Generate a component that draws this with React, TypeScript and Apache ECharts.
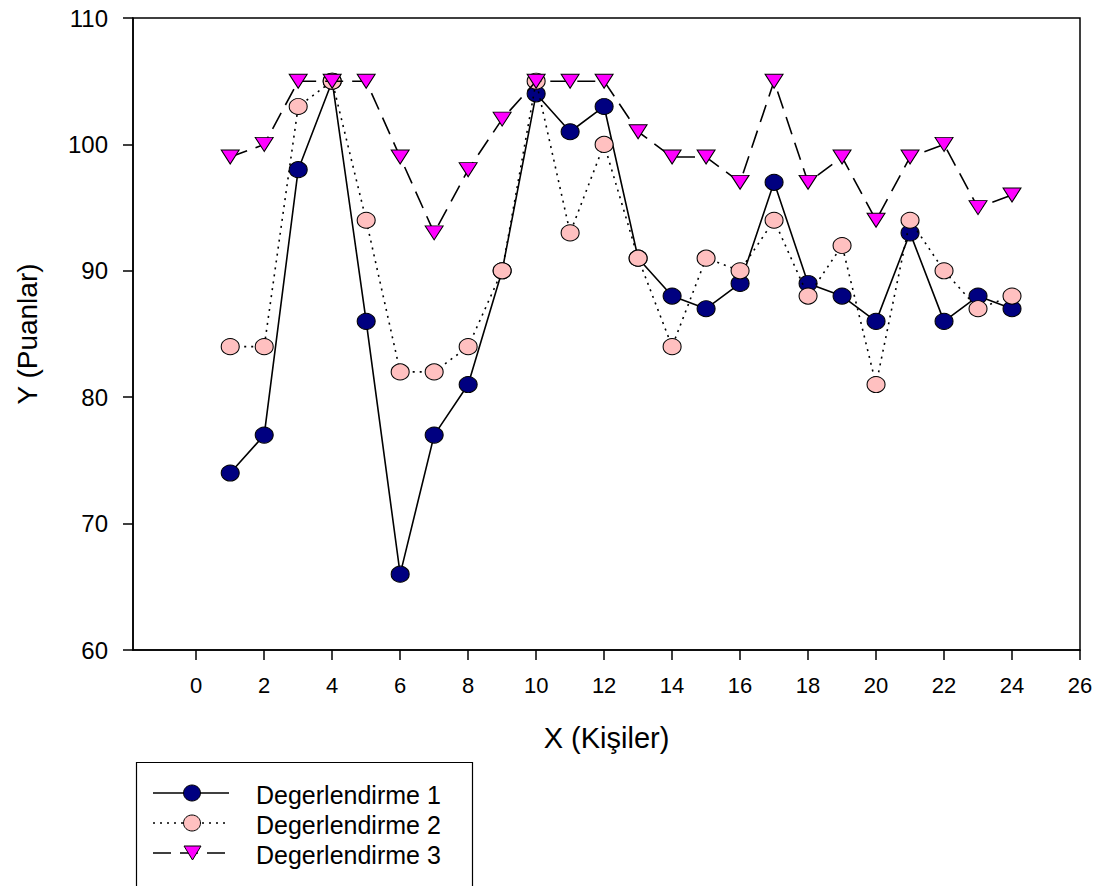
import React, { useEffect, useRef } from "react";
import * as echarts from "echarts";

const xValues = [1, 2, 3, 4, 5, 6, 7, 8, 9, 10, 11, 12, 13, 14, 15, 16, 17, 18, 19, 20, 21, 22, 23, 24];
const series1 = [74, 77, 98, 105, 86, 66, 77, 81, 90, 104, 101, 103, 91, 88, 87, 89, 97, 89, 88, 86, 93, 86, 88, 87];
const series2 = [84, 84, 103, 105, 94, 82, 82, 84, 90, 105, 93, 100, 91, 84, 91, 90, 94, 88, 92, 81, 94, 90, 87, 88];
const series3 = [99, 100, 105, 105, 105, 99, 93, 98, 102, 105, 105, 105, 101, 99, 99, 97, 105, 97, 99, 94, 99, 100, 95, 96];
const xTicks = [0, 2, 4, 6, 8, 10, 12, 14, 16, 18, 20, 22, 24, 26];
const seriesNames = ["Degerlendirme 1", "Degerlendirme 2", "Degerlendirme 3"];

const FONT = "'Liberation Sans', Arial, sans-serif";

export default function App() {
  const ref = useRef<HTMLDivElement>(null);
  useEffect(() => {
    if (!ref.current) return;
    const chart = echarts.init(ref.current, undefined, { renderer: "svg" });
    const pair = (ys: number[]) => xValues.map((x, i) => [x, ys[i]]);
    const legendRows = [
      { y: 793, dash: null as any, sym: "circle", fill: "#000080" },
      { y: 823, dash: [2, 5], sym: "circle", fill: "#FFC0C0" },
      { y: 853, dash: [18, 9], sym: "tri", fill: "#FF00FF" },
    ];
    const graphics: any[] = [
      {
        type: "rect",
        shape: { x: 136.5, y: 762.5, width: 336, height: 150 },
        style: { fill: "#fff", stroke: "#000", lineWidth: 1.2 },
        z: 10,
      },
    ];
    legendRows.forEach((r, i) => {
      graphics.push({
        type: "line",
        shape: { x1: 153, y1: r.y, x2: 229, y2: r.y },
        style: { stroke: "#000", lineWidth: 1.6, lineDash: r.dash || undefined },
        z: 11,
      });
      if (r.sym === "circle") {
        graphics.push({
          type: "ellipse",
          shape: { cx: 192, cy: r.y, rx: 8.5, ry: 8 },
          style: { fill: r.fill, stroke: "#000", lineWidth: 1 },
          z: 12,
        });
      } else {
        graphics.push({
          type: "polygon",
          shape: { points: [[184, r.y - 7], [201, r.y - 7], [192.5, r.y + 7]] },
          style: { fill: r.fill, stroke: "#000", lineWidth: 1 },
          z: 12,
        });
      }
      graphics.push({
        type: "text",
        x: 256,
        y: r.y + 2,
        style: {
          text: seriesNames[i],
          fill: "#000",
          font: `25px ${FONT}`,
          verticalAlign: "middle",
          align: "left",
        },
        z: 12,
      });
    });

    chart.setOption({
      animation: false,
      backgroundColor: "#fff",
      textStyle: { fontFamily: FONT },
      grid: {
        left: 133,
        top: 18,
        right: 21,
        bottom: 236,
        show: true,
        borderColor: "#000",
        borderWidth: 1.5,
      },
      xAxis: {
        type: "value",
        min: -1.86,
        max: 26,
        name: "X (Kişiler)",
        nameLocation: "middle",
        nameGap: 73,
        nameTextStyle: { fontSize: 29, color: "#000", fontFamily: FONT },
        axisLine: { show: true, onZero: false, lineStyle: { color: "#000", width: 1.5 } },
        axisTick: {
          show: true,
          length: 10,
          lineStyle: { color: "#000", width: 1.5 },
          customValues: xTicks,
        },
        axisLabel: {
          color: "#000",
          fontSize: 22,
          margin: 24,
          fontFamily: FONT,
          customValues: xTicks,
        },
        splitLine: { show: false },
      },
      yAxis: {
        type: "value",
        min: 60,
        max: 110,
        interval: 10,
        name: "Y (Puanlar)",
        nameLocation: "middle",
        nameGap: 92,
        nameRotate: 90,
        nameTextStyle: { fontSize: 28, color: "#000", fontFamily: FONT },
        axisLine: { show: true, onZero: false, lineStyle: { color: "#000", width: 1.5 } },
        axisTick: { show: true, length: 10, lineStyle: { color: "#000", width: 1.5 } },
        axisLabel: { color: "#000", fontSize: 24, margin: 25, fontFamily: FONT },
        splitLine: { show: false },
      },
      series: [
        {
          name: seriesNames[0],
          type: "line",
          data: pair(series1),
          symbol: "circle",
          symbolSize: [18, 16],
          lineStyle: { color: "#000", width: 1.6, type: "solid" },
          itemStyle: { color: "#000080", borderColor: "#000", borderWidth: 1 },
          z: 2,
        },
        {
          name: seriesNames[1],
          type: "line",
          data: pair(series2),
          symbol: "circle",
          symbolSize: [18, 16],
          lineStyle: { color: "#000", width: 1.6, type: [2, 5] },
          itemStyle: { color: "#FFC0C0", borderColor: "#000", borderWidth: 1 },
          z: 3,
        },
        {
          name: seriesNames[2],
          type: "line",
          data: pair(series3),
          symbol: "triangle",
          symbolRotate: 180,
          symbolSize: [18, 14],
          lineStyle: { color: "#000", width: 1.6, type: [18, 9] },
          itemStyle: { color: "#FF00FF", borderColor: "#000", borderWidth: 1 },
          z: 4,
        },
      ],
      graphic: graphics,
    });
    return () => chart.dispose();
  }, []);
  return (
    <div
      ref={ref}
      style={{ position: "fixed", left: 0, top: 0, width: 1101, height: 886 }}
    />
  );
}
